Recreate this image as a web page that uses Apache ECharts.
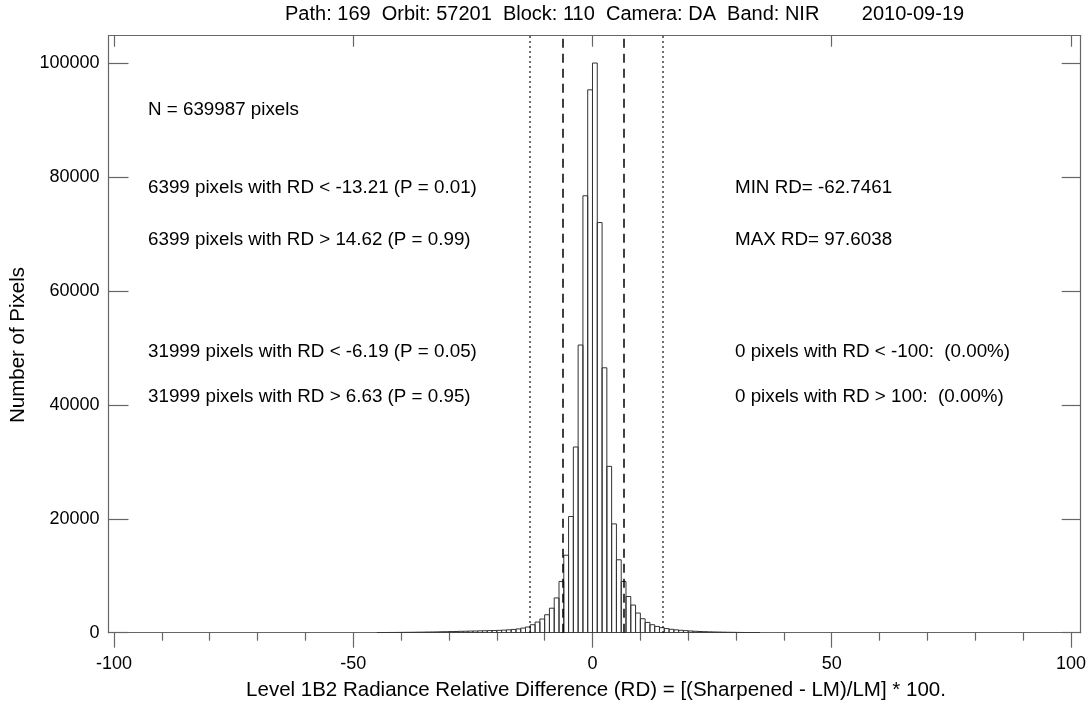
<!DOCTYPE html>
<html>
<head>
<meta charset="utf-8">
<script src="https://cdn.jsdelivr.net/npm/echarts@6/dist/echarts.min.js"></script>
<style>
html,body{margin:0;padding:0;background:#fff;}
#chart{width:1090px;height:704px;}
</style>
</head>
<body>
<div id="chart"></div>
<script>
// ---- data ----
var titleText = 'Path: 169  Orbit: 57201  Block: 110  Camera: DA  Band: NIR';
var dateText = '2010-09-19';
var xAxisTitle = 'Level 1B2 Radiance Relative Difference (RD) = [(Sharpened - LM)/LM] * 100.';
var yAxisTitle = 'Number of Pixels';
var binWidth = 1;
// left edges of histogram bins (RD units)
var binLeft = [-45,-44,-43,-42,-41,-40,-39,-38,-37,-36,-35,-34,-33,-32,-31,-30,-29,-28,-27,-26,-25,-24,-23,-22,-21,-20,-19,-18,-17,-16,-15,-14,-13,-12,-11,-10,-9,-8,-7,-6,-5,-4,-3,-2,-1,0,1,2,3,4,5,6,7,8,9,10,11,12,13,14,15,16,17,18,19,20,21,22,23,24,25,26,27,28,29,30,31,32,33,34];
var binCount = [30,35,38,45,50,62,70,78,92,100,118,128,140,165,175,200,215,245,255,285,300,325,340,365,380,410,450,505,570,660,810,1000,1400,1870,2400,3150,4300,6100,9000,13600,20400,32600,50500,76700,95300,100000,72000,46500,29200,19100,12800,9000,6350,4850,3450,2450,1800,1400,1100,880,720,600,500,420,360,300,250,210,180,150,130,110,90,75,60,50,40,30,20,15];
var xMajorTicks = [-100,-50,0,50,100];
var xMinorTicks = [-90,-80,-70,-60,-40,-30,-20,-10,10,20,30,40,60,70,80,90];
var yTicks = [0,20000,40000,60000,80000,100000];
var xRange = [-101.15, 102.03];
var yRange = [0, 104800];
var dottedLines = [-13.21, 14.62];
var dashedLines = [-6.19, 6.63];
var leftNotes = [
  'N = 639987 pixels',
  '6399 pixels with RD < -13.21 (P = 0.01)',
  '6399 pixels with RD > 14.62 (P = 0.99)',
  '31999 pixels with RD < -6.19 (P = 0.05)',
  '31999 pixels with RD > 6.63 (P = 0.95)'
];
var rightNotes = [
  'MIN RD= -62.7461',
  'MAX RD= 97.6038',
  '0 pixels with RD < -100:  (0.00%)',
  '0 pixels with RD > 100:  (0.00%)'
];

// ---- layout ----
var FONT = '"Liberation Sans", Arial, Helvetica, sans-serif';
var frameColor = '#666';
var leftNoteY = [110, 188, 240, 352, 397];
var rightNoteY = [188, 240, 352, 397];

var histData = binLeft.map(function (b, i) { return [b, binCount[i]]; });

var graphics = [];
leftNotes.forEach(function (t, i) {
  graphics.push({type:'text', x:148, y:leftNoteY[i], silent:true,
    style:{text:t, fill:'#000', font:'18.8px ' + FONT, textAlign:'left', textVerticalAlign:'middle'}});
});
rightNotes.forEach(function (t, i) {
  graphics.push({type:'text', x:735, y:rightNoteY[i], silent:true,
    style:{text:t, fill:'#000', font:'18.8px ' + FONT, textAlign:'left', textVerticalAlign:'middle'}});
});
graphics.push({type:'text', x:285, y:14, silent:true,
  style:{text:titleText, fill:'#000', font:'20px ' + FONT, textAlign:'left', textVerticalAlign:'middle'}});
graphics.push({type:'text', x:913, y:14, silent:true,
  style:{text:dateText, fill:'#000', font:'20px ' + FONT, textAlign:'center', textVerticalAlign:'middle'}});
graphics.push({type:'text', x:596, y:690, silent:true,
  style:{text:xAxisTitle, fill:'#000', font:'20.5px ' + FONT, textAlign:'center', textVerticalAlign:'middle'}});
graphics.push({type:'text', x:18, y:345, rotation:Math.PI/2, silent:true,
  style:{text:yAxisTitle, fill:'#000', font:'20.5px ' + FONT, textAlign:'center', textVerticalAlign:'middle'}});

var markLines = [];
dottedLines.forEach(function (v) {
  markLines.push({xAxis:v, lineStyle:{type:[1.5,3.5], color:'#000', width:1.5}});
});
dashedLines.forEach(function (v) {
  markLines.push({xAxis:v, lineStyle:{type:[9,6], color:'#000', width:1.5}});
});

function plainNum(v) { return String(v); }

var chart = echarts.init(document.getElementById('chart'), null, {renderer:'canvas'});
chart.setOption({
  animation:false,
  backgroundColor:'#fff',
  grid:{left:108.5, right:9.3, top:35.7, bottom:71.3, containLabel:false},
  xAxis:[
    {type:'value', position:'bottom', min:xRange[0], max:xRange[1],
     axisLine:{show:true, onZero:false, lineStyle:{color:frameColor, width:1.2}},
     axisTick:{show:true, inside:false, length:15, customValues:xMajorTicks, lineStyle:{color:frameColor, width:1.2}},
     axisLabel:{show:true, customValues:xMajorTicks, formatter:plainNum, margin:22, color:'#000', fontSize:18, fontFamily:FONT},
     splitLine:{show:false}},
    {type:'value', position:'bottom', min:xRange[0], max:xRange[1],
     axisLine:{show:false, onZero:false},
     axisTick:{show:true, inside:false, length:8, customValues:xMinorTicks, lineStyle:{color:frameColor, width:1.2}},
     axisLabel:{show:false, customValues:xMinorTicks},
     splitLine:{show:false}},
    {type:'value', position:'top', min:xRange[0], max:xRange[1],
     axisLine:{show:true, onZero:false, lineStyle:{color:frameColor, width:1.2}},
     axisTick:{show:true, inside:true, length:11, customValues:xMajorTicks, lineStyle:{color:frameColor, width:1.2}},
     axisLabel:{show:false, customValues:xMajorTicks},
     splitLine:{show:false}}
  ],
  yAxis:[
    {type:'value', position:'left', min:yRange[0], max:yRange[1],
     axisLine:{show:true, onZero:false, lineStyle:{color:frameColor, width:1.2}},
     axisTick:{show:true, inside:true, length:20, customValues:yTicks, lineStyle:{color:frameColor, width:1.2}},
     axisLabel:{show:true, customValues:yTicks, formatter:plainNum, margin:9, color:'#000', fontSize:18, fontFamily:FONT},
     splitLine:{show:false}},
    {type:'value', position:'right', min:yRange[0], max:yRange[1],
     axisLine:{show:true, onZero:false, lineStyle:{color:frameColor, width:1.2}},
     axisTick:{show:true, inside:true, length:19, customValues:yTicks, lineStyle:{color:frameColor, width:1.2}},
     axisLabel:{show:false, customValues:yTicks},
     splitLine:{show:false}}
  ],
  graphic:graphics,
  series:[{
    type:'custom',
    xAxisIndex:0, yAxisIndex:0,
    data:histData,
    encode:{x:0, y:1},
    clip:true,
    renderItem:function (params, api) {
      var x0 = api.value(0), v = api.value(1);
      var p0 = api.coord([x0, 0]);
      var p1 = api.coord([x0 + binWidth, v]);
      return {type:'rect',
        shape:{x:p0[0], y:p1[1], width:p1[0]-p0[0], height:p0[1]-p1[1]},
        style:{fill:'none', stroke:'#333', lineWidth:1}};
    },
    markLine:{silent:true, symbol:['none','none'], label:{show:false}, data:markLines}
  }]
});
</script>
</body>
</html>
